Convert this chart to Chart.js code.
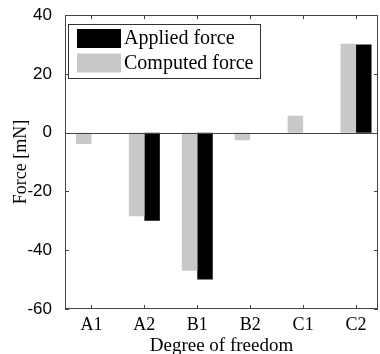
<!DOCTYPE html>
<html>
<head>
<meta charset="utf-8">
<script src="https://cdn.jsdelivr.net/npm/chart.js@4.4.1/dist/chart.umd.min.js"></script>
<style>
  html, body { margin: 0; padding: 0; background: #fff; }
  #wrap { width: 380px; height: 354px; position: relative; }
</style>
</head>
<body>
<div id="wrap"><canvas id="c" width="380" height="354"></canvas></div>
<script>
const categories = ['A1', 'A2', 'B1', 'B2', 'C1', 'C2'];
const computedForce = [-3.8, -28.4, -47, -2.6, 5.8, 30.3];
const appliedForce = [0, -30, -50, 0, 0, 30];
const yTicks = [-60, -40, -20, 0, 20, 40];

const toPoints = arr => arr.map((v, i) => ({ x: i + 1, y: v }));

const frame = {
  id: 'frame',
  afterDatasetsDraw(chart) {
    const ctx = chart.ctx;
    const a = chart.chartArea;
    const xs = chart.scales.x, ys = chart.scales.y;
    ctx.save();
    // zero baseline
    ctx.strokeStyle = '#444';
    ctx.lineWidth = 1;
    const y0 = Math.round(ys.getPixelForValue(0)) + 0.5;
    ctx.beginPath();
    ctx.moveTo(a.left, y0); ctx.lineTo(a.right, y0);
    ctx.stroke();
    // box
    ctx.strokeStyle = '#444';
    ctx.strokeRect(Math.round(a.left) + 0.5, Math.round(a.top) + 0.5,
                   Math.round(a.right - a.left) - 1, Math.round(a.bottom - a.top) - 1);
    // inward ticks
    const L = 4;
    ctx.beginPath();
    categories.forEach((c, i) => {
      const x = Math.round(xs.getPixelForValue(i + 1)) + 0.5;
      ctx.moveTo(x, a.bottom); ctx.lineTo(x, a.bottom - L);
      ctx.moveTo(x, a.top); ctx.lineTo(x, a.top + L);
    });
    yTicks.forEach(v => {
      const y = Math.round(ys.getPixelForValue(v)) + 0.5;
      ctx.moveTo(a.left, y); ctx.lineTo(a.left + L, y);
      ctx.moveTo(a.right, y); ctx.lineTo(a.right - L, y);
    });
    ctx.stroke();
    // legend box
    const lx = 68.5, ly = 24.5, lw = 192, lh = 54;
    ctx.fillStyle = '#fff';
    ctx.fillRect(lx, ly, lw, lh);
    ctx.strokeStyle = '#333';
    ctx.strokeRect(lx, ly, lw, lh);
    const items = chart.data.datasets.slice().reverse();
    ctx.font = '20px "Liberation Serif", "Times New Roman", serif';
    ctx.textBaseline = 'middle';
    ctx.textAlign = 'left';
    items.forEach((ds, i) => {
      const top = 29 + i * 24.5;
      ctx.fillStyle = ds.backgroundColor;
      ctx.fillRect(77, top, 44, 19);
      ctx.fillStyle = '#000';
      ctx.fillText(ds.label, 124, top + 10);
    });
    ctx.restore();
  }
};

new Chart(document.getElementById('c'), {
  type: 'bar',
  data: {
    datasets: [
      { label: 'Computed force', data: toPoints(computedForce), backgroundColor: '#c8c8c8',
        categoryPercentage: 0.585, barPercentage: 1.0 },
      { label: 'Applied force', data: toPoints(appliedForce), backgroundColor: '#000000',
        categoryPercentage: 0.585, barPercentage: 1.0 }
    ]
  },
  options: {
    responsive: false,
    animation: false,
    layout: { padding: { top: 14, right: 2, left: 10, bottom: 0 } },
    plugins: { legend: { display: false }, tooltip: { enabled: false } },
    scales: {
      x: {
        type: 'linear',
        min: 0.5,
        max: 6.415,
        offset: false,
        grid: { display: false, offset: false },
        border: { display: false },
        afterBuildTicks: axis => { axis.ticks = categories.map((c, i) => ({ value: i + 1 })); },
        afterFit: s => { s.height = 45; },
        ticks: {
          autoSkip: false,
          maxRotation: 0,
          padding: -3,
          color: '#000',
          font: { family: '"Liberation Serif", "Times New Roman", serif', size: 18 },
          callback: v => categories[Math.round(v) - 1] ?? ''
        },
        title: {
          display: true,
          text: 'Degree of freedom',
          color: '#000',
          font: { family: '"Liberation Serif", "Times New Roman", serif', size: 19 },
          padding: { top: 0, bottom: -3 }
        }
      },
      y: {
        min: -60,
        max: 40,
        grid: { display: false },
        border: { display: false },
        afterBuildTicks: axis => { axis.ticks = yTicks.map(v => ({ value: v })); },
        afterFit: s => { s.width = 55; },
        ticks: {
          padding: 5,
          color: '#000',
          font: { family: '"Liberation Sans", Arial, sans-serif', size: 17 }
        },
        title: {
          display: true,
          text: 'Force [mN]',
          color: '#000',
          font: { family: '"Liberation Serif", "Times New Roman", serif', size: 18 },
          padding: { top: 0, bottom: 0 }
        }
      }
    }
  },
  plugins: [frame]
});
</script>
</body>
</html>
